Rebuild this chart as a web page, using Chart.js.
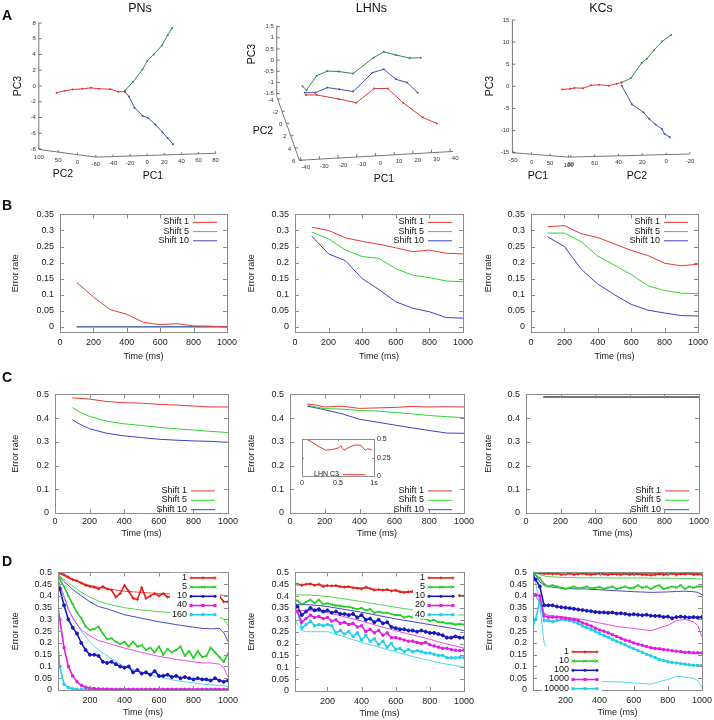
<!DOCTYPE html>
<html>
<head>
<meta charset="utf-8">
<script src="https://cdn.jsdelivr.net/npm/chart.js@4.4.0/dist/chart.umd.min.js"></script>
<style>
body{margin:0;background:#fff;width:714px;height:720px;position:relative;overflow:hidden;font-family:"Liberation Sans",Arial,Helvetica,sans-serif}
canvas{position:absolute}
.t{position:absolute;white-space:nowrap;color:#111;transform:translate(-50%,-50%);line-height:1}
</style>
</head>
<body>
<script>
// ---- row A: trajectories (horizontal floor coordinate, PC3) ----
const pnRedU = [-105.9, -96.5, -87.1, -75.8, -65.6, -56.2, -43.1, -33.7, -26.1];
const pnRedPC3 = [-0.85, -0.61, -0.45, -0.36, -0.24, -0.36, -0.40, -0.73, -0.73];
const pnGreenU = [-26.1, -16.7, -5.4, 0.2, 7.7, 17.2, 23.9, 29.2];
const pnGreenPC3 = [-0.61, 0.49, 2.1, 3.2, 4.0, 5.14, 6.44, 7.37];
const pnBlueU = [-26.1, -21.2, -14.8, -5.4, 1.3, 9.6, 17.9, 23.9, 30.3];
const pnBluePC3 = [-0.73, -1.34, -2.75, -3.77, -4.05, -4.9, -5.87, -6.6, -7.4];

const lhGreenU = [-39.0, -36.9, -31.4, -25.7, -19.7, -11.9, -1.0, 4.5, 11.0, 18.3, 24.3];
const lhGreenPC3 = [-1.17, -1.34, -0.70, -0.49, -0.51, -0.60, 0.11, 0.37, 0.23, 0.09, 0.11];
const lhBlueU = [-37.8, -32.1, -25.7, -19.3, -11.9, -1.6, 4.5, 11.0, 16.9, 22.6];
const lhBluePC3 = [-1.46, -1.46, -1.23, -1.31, -1.41, -0.56, -0.41, -0.86, -1.0, -1.46];
const lhRedU = [-37.2, -31.4, -19.7, -10.2, -0.7, 6.6, 14.8, 25.2, 32.9];
const lhRedPC3 = [-1.56, -1.56, -1.74, -1.91, -1.27, -1.27, -1.91, -2.56, -2.84];

const kcRedU = [87.3, 80.5, 77.0, 69.7, 63.0, 56.2, 48.1, 41.4, 37.3];
const kcRedPC3 = [-0.72, -0.58, -0.36, -0.43, 0.22, 0.36, 0.14, 0.58, 0.87];
const kcGreenU = [37.3, 29.7, 20.5, 16.2, 10.3, 3.5, -4.1];
const kcGreenPC3 = [0.87, 1.80, 5.26, 6.2, 8.15, 10.1, 11.6];
const kcBlueU = [37.3, 28.6, 18.9, 14.3, 8.9, 3.5, 1.35, -3.2];
const kcBluePC3 = [0.14, -4.1, -5.9, -7.35, -8.65, -9.66, -10.8, -11.5];

const pnPC3Ticks = [-8, -6, -4, -2, 0, 2, 4, 6, 8];
const pnPC2Ticks = [100, 50, 0];
const pnPC1Ticks = [-60, -40, -20, 0, 20, 40, 60, 80];
const lhPC3Ticks = [-1.5, -1, -0.5, 0, 0.5, 1, 1.5];
const lhPC2Ticks = [-4, -2, 0, 2, 4, 6];
const lhPC1Ticks = [-40, -30, -20, -10, 0, 10, 20, 30, 40];
const kcPC3Ticks = [-15, -10, -5, 0, 5, 10, 15];
const kcPC1Ticks = [-50, 0, 50, 100];
const kcPC2Ticks = [80, 60, 40, 20, 0, -20];

// ---- row B ----
const bTime = [100, 200, 300, 400, 500, 600, 700, 800, 900, 1000];
const pnB1 = [0.138, 0.093, 0.054, 0.039, 0.014, 0.007, 0.01, 0.003, 0.002, 0];
const pnB5 = [0, 0, 0, 0, 0, 0, 0, 0, 0, 0];
const pnB10 = [0, 0, 0, 0, 0, 0, 0, 0, 0, 0];
const lhB1 = [0.31, 0.30, 0.277, 0.266, 0.257, 0.246, 0.234, 0.239, 0.229, 0.227];
const lhB5 = [0.295, 0.274, 0.239, 0.219, 0.213, 0.181, 0.161, 0.153, 0.143, 0.14];
const lhB10 = [0.282, 0.227, 0.206, 0.15, 0.116, 0.078, 0.058, 0.047, 0.029, 0.027];
const kcB1 = [0.312, 0.315, 0.29, 0.278, 0.258, 0.238, 0.222, 0.198, 0.19, 0.195];
const kcB5 = [0.292, 0.292, 0.265, 0.22, 0.192, 0.163, 0.128, 0.113, 0.105, 0.103];
const kcB10 = [0.28, 0.25, 0.18, 0.133, 0.1, 0.07, 0.052, 0.043, 0.035, 0.034];
const bYTicks = [0, 0.05, 0.1, 0.15, 0.2, 0.25, 0.3, 0.35];

// ---- row C ----
const cTime = [100, 150, 200, 300, 400, 500, 600, 700, 800, 900, 1000];
const pnC1 = [0.485, 0.483, 0.48, 0.47, 0.465, 0.463, 0.458, 0.455, 0.451, 0.447, 0.447];
const pnC5 = [0.444, 0.423, 0.407, 0.387, 0.376, 0.369, 0.361, 0.355, 0.35, 0.344, 0.339];
const pnC10 = [0.393, 0.372, 0.355, 0.336, 0.325, 0.318, 0.311, 0.307, 0.304, 0.302, 0.298];
const lhC1 = [0.46, 0.455, 0.447, 0.45, 0.441, 0.443, 0.445, 0.449, 0.447, 0.448, 0.447];
const lhC5 = [0.455, 0.447, 0.44, 0.438, 0.432, 0.43, 0.424, 0.418, 0.411, 0.406, 0.402];
const lhC10 = [0.45, 0.443, 0.435, 0.418, 0.395, 0.383, 0.371, 0.359, 0.348, 0.337, 0.336];
const kcC1 = [0.4905, 0.4905, 0.4905, 0.4903, 0.4903, 0.4902, 0.4902, 0.4901, 0.4901, 0.49, 0.49];
const kcC5 = [0.489, 0.489, 0.489, 0.489, 0.4888, 0.4888, 0.4887, 0.4887, 0.4886, 0.4886, 0.4885];
const kcC10 = [0.4885, 0.4885, 0.4884, 0.4884, 0.4883, 0.4883, 0.4882, 0.4882, 0.4881, 0.4881, 0.488];
const cYTicks = [0, 0.1, 0.2, 0.3, 0.4, 0.5];
const xTicks = [0, 200, 400, 600, 800, 1000];

const insetTime = [0.055, 0.124, 0.217, 0.332, 0.424, 0.516, 0.539, 0.585, 0.654, 0.724, 0.816, 0.876, 0.908, 0.968];
const insetErr = [0.5, 0.47, 0.41, 0.35, 0.36, 0.385, 0.41, 0.35, 0.39, 0.42, 0.42, 0.35, 0.37, 0.36];
const insetXTicks = [0, 0.5, 1];
const insetXLabels = ['0', '0.5', '1s'];
const insetYTicks = [0, 0.25, 0.5];

// ---- row D: noisy sample curves (thick) and smooth curves (thin) ----
const dTime = [10, 25, 50, 75, 100, 125, 150, 175, 200, 225, 250, 275, 300, 325, 350, 375, 400, 425, 450, 475,
  500, 525, 550, 575, 600, 625, 650, 675, 700, 725, 750, 775, 800, 825, 850, 875, 900, 925, 950, 975, 1000];
const dThinTime = [10, 25, 50, 75, 100, 150, 200, 250, 300, 400, 500, 600, 700, 800, 850, 900, 950, 975, 1000];

const pnD1 = [0.5, 0.497, 0.49, 0.48, 0.47, 0.465, 0.455, 0.445, 0.44, 0.437, 0.43, 0.44, 0.43, 0.425, 0.395, 0.41, 0.445, 0.42, 0.39, 0.385,
  0.435, 0.39, 0.4, 0.41, 0.4, 0.41, 0.395, 0.4, 0.41, 0.4, 0.41, 0.395, 0.4, 0.405, 0.4, 0.41, 0.4, 0.405, 0.4, 0.375, 0.375];
const pnD5 = [0.49, 0.47, 0.44, 0.40, 0.365, 0.33, 0.305, 0.27, 0.255, 0.26, 0.27, 0.24, 0.215, 0.22, 0.205, 0.195, 0.205, 0.185, 0.205, 0.185,
  0.19, 0.17, 0.18, 0.16, 0.185, 0.15, 0.175, 0.16, 0.17, 0.185, 0.145, 0.165, 0.135, 0.165, 0.14, 0.145, 0.18, 0.16, 0.14, 0.12, 0.155];
const pnD10 = [0.45, 0.43, 0.36, 0.30, 0.265, 0.24, 0.2, 0.17, 0.15, 0.15, 0.145, 0.12, 0.115, 0.12, 0.11, 0.1, 0.095, 0.1, 0.075, 0.085,
  0.07, 0.075, 0.065, 0.08, 0.06, 0.06, 0.065, 0.055, 0.06, 0.05, 0.055, 0.05, 0.045, 0.05, 0.045, 0.045, 0.04, 0.05, 0.04, 0.035, 0.04];
const pnD40 = [0.375, 0.3, 0.18, 0.1, 0.06, 0.035, 0.02, 0.012, 0.008, 0.006, 0.005, 0.004, 0.004, 0.003, 0.003, 0.003, 0.003, 0.003, 0.003, 0.003,
  0.003, 0.003, 0.003, 0.003, 0.003, 0.003, 0.003, 0.003, 0.003, 0.003, 0.003, 0.003, 0.003, 0.003, 0.003, 0.003, 0.003, 0.003, 0.003, 0.003, 0.003];
const pnD160 = [0.245, 0.1, 0.025, 0.01, 0.005, 0.003, 0.002, 0.002, 0.002, 0.002, 0.002, 0.002, 0.002, 0.002, 0.002, 0.002, 0.002, 0.002, 0.002, 0.002,
  0.002, 0.002, 0.002, 0.002, 0.002, 0.002, 0.002, 0.002, 0.002, 0.002, 0.002, 0.002, 0.002, 0.002, 0.002, 0.002, 0.002, 0.002, 0.002, 0.002, 0.002];
const pnT1 = [0.5, 0.495, 0.485, 0.475, 0.468, 0.455, 0.445, 0.437, 0.43, 0.42, 0.415, 0.41, 0.408, 0.405, 0.405, 0.405, 0.405, 0.402, 0.4];
const pnT5 = [0.495, 0.485, 0.47, 0.455, 0.443, 0.415, 0.395, 0.378, 0.366, 0.35, 0.34, 0.333, 0.327, 0.32, 0.317, 0.31, 0.312, 0.3, 0.276];
const pnT10 = [0.49, 0.48, 0.46, 0.445, 0.428, 0.4, 0.375, 0.355, 0.345, 0.32, 0.305, 0.29, 0.278, 0.267, 0.262, 0.26, 0.262, 0.245, 0.207];
const pnT40 = [0.48, 0.45, 0.4, 0.345, 0.305, 0.255, 0.23, 0.21, 0.2, 0.178, 0.16, 0.143, 0.13, 0.12, 0.115, 0.115, 0.11, 0.095, 0.055];
const pnT160 = [0.48, 0.44, 0.39, 0.34, 0.31, 0.25, 0.205, 0.17, 0.145, 0.1, 0.075, 0.055, 0.04, 0.03, 0.025, 0.022, 0.02, 0.018, 0.014];

const lhD1 = [0.45, 0.45, 0.445, 0.45, 0.452, 0.445, 0.45, 0.44, 0.445, 0.443, 0.445, 0.44, 0.438, 0.44, 0.435, 0.433, 0.43, 0.438, 0.432, 0.425,
  0.428, 0.425, 0.428, 0.422, 0.425, 0.418, 0.415, 0.418, 0.42, 0.415, 0.413, 0.41, 0.41, 0.408, 0.407, 0.405, 0.405, 0.404, 0.403, 0.402, 0.4];
const lhD5 = [0.385, 0.38, 0.365, 0.375, 0.385, 0.37, 0.385, 0.365, 0.37, 0.365, 0.36, 0.36, 0.355, 0.355, 0.35, 0.345, 0.35, 0.34, 0.345, 0.33,
  0.335, 0.33, 0.33, 0.325, 0.32, 0.32, 0.31, 0.315, 0.31, 0.31, 0.305, 0.305, 0.295, 0.3, 0.29, 0.29, 0.285, 0.285, 0.28, 0.283, 0.28];
const lhD10 = [0.36, 0.355, 0.32, 0.335, 0.35, 0.34, 0.345, 0.335, 0.34, 0.33, 0.335, 0.325, 0.325, 0.32, 0.325, 0.31, 0.32, 0.3, 0.305, 0.29,
  0.3, 0.285, 0.29, 0.27, 0.265, 0.26, 0.26, 0.255, 0.255, 0.25, 0.255, 0.25, 0.245, 0.245, 0.24, 0.235, 0.225, 0.225, 0.23, 0.225, 0.225];
const lhD20 = [0.34, 0.335, 0.29, 0.305, 0.32, 0.31, 0.315, 0.305, 0.31, 0.295, 0.3, 0.285, 0.29, 0.28, 0.285, 0.27, 0.275, 0.25, 0.26, 0.245,
  0.255, 0.235, 0.245, 0.225, 0.225, 0.22, 0.215, 0.21, 0.21, 0.205, 0.2, 0.205, 0.195, 0.19, 0.185, 0.18, 0.18, 0.175, 0.172, 0.17, 0.172];
const lhD40 = [0.335, 0.335, 0.265, 0.28, 0.295, 0.275, 0.28, 0.275, 0.28, 0.275, 0.245, 0.255, 0.24, 0.25, 0.23, 0.245, 0.215, 0.235, 0.21, 0.22,
  0.195, 0.21, 0.185, 0.2, 0.175, 0.18, 0.165, 0.175, 0.165, 0.17, 0.165, 0.16, 0.16, 0.155, 0.15, 0.15, 0.14, 0.14, 0.14, 0.142, 0.14];
const lhT1 = [0.45, 0.45, 0.45, 0.45, 0.45, 0.448, 0.445, 0.442, 0.44, 0.435, 0.428, 0.422, 0.416, 0.41, 0.407, 0.405, 0.403, 0.402, 0.4];
const lhT5 = [0.405, 0.405, 0.405, 0.405, 0.404, 0.402, 0.398, 0.393, 0.388, 0.377, 0.365, 0.353, 0.342, 0.333, 0.329, 0.326, 0.323, 0.321, 0.32];
const lhT10 = [0.365, 0.365, 0.365, 0.364, 0.363, 0.36, 0.356, 0.35, 0.344, 0.332, 0.318, 0.304, 0.292, 0.28, 0.274, 0.268, 0.262, 0.258, 0.255];
const lhT20 = [0.34, 0.34, 0.34, 0.34, 0.338, 0.335, 0.33, 0.322, 0.313, 0.295, 0.274, 0.254, 0.236, 0.218, 0.208, 0.198, 0.19, 0.185, 0.18];
const lhT40 = [0.3, 0.28, 0.255, 0.25, 0.25, 0.25, 0.25, 0.24, 0.228, 0.205, 0.185, 0.165, 0.145, 0.128, 0.12, 0.113, 0.107, 0.103, 0.1];

const kcD1 = [0.5, 0.5, 0.497, 0.495, 0.495, 0.493, 0.495, 0.49, 0.492, 0.495, 0.49, 0.493, 0.495, 0.492, 0.49, 0.493, 0.495, 0.492, 0.49, 0.493,
  0.492, 0.49, 0.495, 0.49, 0.492, 0.493, 0.49, 0.49, 0.488, 0.49, 0.493, 0.49, 0.492, 0.495, 0.49, 0.493, 0.492, 0.495, 0.49, 0.492, 0.49];
const kcD10 = [0.5, 0.49, 0.475, 0.45, 0.44, 0.445, 0.44, 0.435, 0.43, 0.435, 0.44, 0.432, 0.435, 0.44, 0.432, 0.435, 0.438, 0.43, 0.435, 0.44,
  0.43, 0.435, 0.44, 0.432, 0.435, 0.445, 0.435, 0.44, 0.43, 0.44, 0.445, 0.43, 0.435, 0.44, 0.435, 0.445, 0.43, 0.44, 0.435, 0.44, 0.44];
const kcD100 = [0.485, 0.47, 0.44, 0.36, 0.36, 0.36, 0.355, 0.352, 0.35, 0.348, 0.345, 0.342, 0.34, 0.337, 0.335, 0.332, 0.33, 0.33, 0.328, 0.33,
  0.325, 0.326, 0.324, 0.32, 0.322, 0.32, 0.318, 0.32, 0.316, 0.315, 0.315, 0.31, 0.312, 0.305, 0.31, 0.312, 0.31, 0.308, 0.31, 0.308, 0.31];
const kcD1000 = [0.405, 0.405, 0.4, 0.315, 0.31, 0.31, 0.31, 0.308, 0.305, 0.302, 0.3, 0.295, 0.285, 0.28, 0.272, 0.263, 0.255, 0.25, 0.243, 0.235,
  0.228, 0.22, 0.212, 0.208, 0.2, 0.195, 0.19, 0.185, 0.18, 0.177, 0.175, 0.172, 0.17, 0.167, 0.165, 0.163, 0.16, 0.16, 0.158, 0.158, 0.158];
const kcD10000 = [0.28, 0.3, 0.38, 0.295, 0.295, 0.29, 0.295, 0.3, 0.298, 0.295, 0.29, 0.282, 0.272, 0.265, 0.258, 0.25, 0.24, 0.232, 0.225, 0.215,
  0.207, 0.2, 0.192, 0.183, 0.175, 0.168, 0.16, 0.152, 0.145, 0.138, 0.13, 0.125, 0.12, 0.117, 0.115, 0.112, 0.11, 0.107, 0.105, 0.105, 0.104];
const kcT1 = [0.5, 0.5, 0.499, 0.498, 0.498, 0.497, 0.497, 0.497, 0.496, 0.496, 0.496, 0.495, 0.495, 0.495, 0.495, 0.495, 0.495, 0.495, 0.494];
const kcT10 = [0.5, 0.5, 0.49, 0.485, 0.482, 0.48, 0.478, 0.478, 0.477, 0.477, 0.476, 0.476, 0.476, 0.475, 0.475, 0.474, 0.474, 0.473, 0.472];
const kcT100 = [0.5, 0.49, 0.46, 0.445, 0.44, 0.435, 0.432, 0.43, 0.43, 0.426, 0.422, 0.418, 0.415, 0.417, 0.419, 0.42, 0.418, 0.415, 0.405];
const kcT1000 = [0.4, 0.4, 0.37, 0.325, 0.318, 0.313, 0.31, 0.305, 0.3, 0.285, 0.27, 0.262, 0.252, 0.275, 0.295, 0.3, 0.29, 0.275, 0.225];
const kcT10000 = [0.48, 0.46, 0.36, 0.2, 0.16, 0.12, 0.08, 0.06, 0.045, 0.036, 0.035, 0.03, 0.025, 0.045, 0.058, 0.055, 0.05, 0.04, 0.01];

const dYTicks = [0, 0.05, 0.1, 0.15, 0.2, 0.25, 0.3, 0.35, 0.4, 0.45, 0.5];
const dXTicks = [200, 400, 600, 800, 1000];

// ---------------------------------------------------------------
const FONT = '"Liberation Sans", Arial, Helvetica, sans-serif';
Chart.defaults.font.family = FONT;
Chart.defaults.animation = false;

const RED = 'rgb(232,58,52)', GREEN = 'rgb(52,212,52)', BLUE = 'rgb(64,64,200)';
const DRED = '#e4201c', DGREEN = '#22cc22', DBLUE = '#1818b8', DMAG = '#e01ee0', DCYAN = '#22cfe6';
const AR = '#d8393a', AG = '#2e8a50', AB = '#4253a3';

function addCanvas(left, top, w, h) {
  const c = document.createElement('canvas');
  c.width = w; c.height = h;
  c.style.left = left + 'px'; c.style.top = top + 'px';
  c.style.width = w + 'px'; c.style.height = h + 'px';
  document.body.appendChild(c);
  return c.getContext('2d');
}

function text(s, x, y, size, extra) {
  const d = document.createElement('div');
  d.className = 't';
  d.textContent = s;
  d.style.left = x + 'px'; d.style.top = y + 'px';
  d.style.fontSize = size + 'px';
  if (extra) Object.assign(d.style, extra);
  document.body.appendChild(d);
}

function drawMark(ctx, style, x, y, color, r) {
  ctx.save();
  ctx.strokeStyle = color; ctx.fillStyle = color; ctx.lineWidth = 1;
  ctx.beginPath();
  if (style === 'cross') {
    ctx.moveTo(x - r, y); ctx.lineTo(x + r, y); ctx.moveTo(x, y - r); ctx.lineTo(x, y + r); ctx.stroke();
  } else if (style === 'crossRot') {
    ctx.moveTo(x - r, y - r); ctx.lineTo(x + r, y + r); ctx.moveTo(x - r, y + r); ctx.lineTo(x + r, y - r); ctx.stroke();
  } else if (style === 'rect') {
    ctx.fillRect(x - r, y - r, 2 * r, 2 * r);
  } else {
    ctx.arc(x, y, r, 0, Math.PI * 2); ctx.fill();
  }
  ctx.restore();
}

const framePlugin = {
  id: 'frame',
  afterDatasetsDraw(chart, args, o) {
    if (!o || !o.on) return;
    const {ctx, chartArea: a, scales} = chart;
    const t = o.tick || 4;
    ctx.save();
    ctx.strokeStyle = '#8c8c8c';
    ctx.lineWidth = 1;
    ctx.beginPath();
    scales.x.ticks.forEach(tk => {
      const x = Math.round(scales.x.getPixelForValue(tk.value)) + 0.5;
      ctx.moveTo(x, a.bottom); ctx.lineTo(x, a.bottom - t);
      ctx.moveTo(x, a.top); ctx.lineTo(x, a.top + t);
    });
    scales.y.ticks.forEach(tk => {
      const y = Math.round(scales.y.getPixelForValue(tk.value)) + 0.5;
      ctx.moveTo(a.left, y); ctx.lineTo(a.left + t, y);
      ctx.moveTo(a.right, y); ctx.lineTo(a.right - t, y);
    });
    ctx.stroke();
    ctx.strokeRect(Math.round(a.left) + 0.5, Math.round(a.top) + 0.5, Math.round(a.right - a.left), Math.round(a.bottom - a.top));
    ctx.restore();
  }
};

const keyPlugin = {
  id: 'gkey',
  afterDatasetsDraw(chart, args, o) {
    if (!o || !o.rows) return;
    const {ctx, chartArea: a} = chart;
    const sx = a.left + o.sx, sl = o.len || 24, sp = o.sp || 9.2, size = o.size || 9;
    ctx.save();
    ctx.font = size + 'px ' + FONT;
    if (o.opaque) {
      let tw = 0;
      o.rows.forEach(r => { tw = Math.max(tw, ctx.measureText(r.label).width); });
      ctx.fillStyle = '#fff';
      ctx.fillRect(sx - 6 - tw, a.top + o.y0 - sp / 2, tw + 6 + sl + (o.padR || 4), o.rows.length * sp);
    }
    o.rows.forEach((r, i) => {
      const y = a.top + o.y0 + i * sp;
      ctx.fillStyle = '#111'; ctx.textAlign = 'right'; ctx.textBaseline = 'middle';
      ctx.fillText(r.label, sx - 4, y);
      ctx.strokeStyle = r.color; ctx.lineWidth = r.width || 1;
      ctx.beginPath(); ctx.moveTo(sx, y + 0.5); ctx.lineTo(sx + sl, y + 0.5); ctx.stroke();
      if (r.point) [sx, sx + sl / 2, sx + sl].forEach(px => drawMark(ctx, r.point, px, y + 0.5, r.color, 1.5));
    });
    ctx.restore();
  }
};

const axes3dPlugin = {
  id: 'axes3d',
  beforeDatasetsDraw(chart, args, o) {
    if (!o || !o.axes) return;
    const {ctx, scales: {x, y}} = chart;
    ctx.save();
    ctx.strokeStyle = '#555'; ctx.fillStyle = '#333'; ctx.lineWidth = 0.8;
    ctx.font = '6px ' + FONT;
    o.axes.forEach(ax => {
      const x0 = x.getPixelForValue(ax.from[0]), y0 = y.getPixelForValue(ax.from[1]);
      const x1 = x.getPixelForValue(ax.to[0]), y1 = y.getPixelForValue(ax.to[1]);
      ctx.beginPath(); ctx.moveTo(x0, y0); ctx.lineTo(x1, y1); ctx.stroke();
      ax.ticks.forEach(t => {
        const f = (t - ax.v0) / (ax.v1 - ax.v0);
        const px = x0 + f * (x1 - x0), py = y0 + f * (y1 - y0);
        ctx.beginPath(); ctx.moveTo(px, py); ctx.lineTo(px + ax.tick[0], py + ax.tick[1]); ctx.stroke();
        ctx.textAlign = ax.align || 'center'; ctx.textBaseline = 'middle';
        ctx.fillText(String(t), px + ax.lab[0], py + ax.lab[1]);
      });
    });
    ctx.restore();
  }
};

Chart.register(framePlugin, keyPlugin, axes3dPlugin);

function pts(xs, ys) { return xs.map((x, i) => ({x: x, y: ys[i]})); }

function line(xs, ys, color, width, point) {
  return {
    data: pts(xs, ys), showLine: true, borderColor: color, backgroundColor: color,
    borderWidth: width, tension: 0, pointRadius: point ? 1.5 : 0, pointStyle: point || 'circle',
    pointBorderWidth: 1, pointBackgroundColor: color, pointBorderColor: color
  };
}

// ---- row A ----
function trajChart(left, xr, yr, reverse, datasets, axes) {
  const ctx = addCanvas(left, 0, 238, 185);
  new Chart(ctx, {
    type: 'scatter',
    data: {datasets: datasets},
    options: {
      responsive: false, animation: false,
      layout: {padding: 0},
      plugins: {legend: {display: false}, tooltip: {enabled: false}, axes3d: {axes: axes}},
      scales: {
        x: {type: 'linear', display: false, min: xr[0], max: xr[1], reverse: reverse},
        y: {type: 'linear', display: false, min: yr[0], max: yr[1]}
      }
    }
  });
}

function traj(u, v, color) {
  return {data: pts(u, v), showLine: true, borderColor: color, backgroundColor: color, borderWidth: 1,
    pointRadius: 1, pointBorderWidth: 0, tension: 0};
}

trajChart(0, [-167.3, 101.5], [-12.06, 10.405], false,
  [traj(pnRedU, pnRedPC3, AR), traj(pnGreenU, pnGreenPC3, AG), traj(pnBlueU, pnBluePC3, AB)],
  [
    {from: [-126.6, -8], to: [-126.6, 8], v0: -8, v1: 8, ticks: pnPC3Ticks, tick: [3, 0], lab: [-3, 0], align: 'right'},
    {from: [-126.6, -8.06], to: [-60, -9.03], v0: 100, v1: -47.5, ticks: pnPC2Ticks, tick: [0, -2], lab: [0, 8]},
    {from: [-60, -9.03], to: [80, -8.54], v0: -60, v1: 80, ticks: pnPC1Ticks, tick: [0, -2], lab: [0, 7]}
  ]);

trajChart(238, [-71.4, 51.7], [-5.414, 2.514], false,
  [traj(lhRedU, lhRedPC3, AR), traj(lhBlueU, lhBluePC3, AB), traj(lhGreenU, lhGreenPC3, AG)],
  [
    {from: [-52.8, -1.6], to: [-52.8, 1.55], v0: -1.6, v1: 1.55, ticks: lhPC3Ticks, tick: [3, 0], lab: [-3, 0], align: 'right'},
    {from: [-52.8, -1.63], to: [-40.7, -4.486], v0: -4.4, v1: 6, ticks: lhPC2Ticks, tick: [3, 0], lab: [-4, 1], align: 'right'},
    {from: [-40.7, -4.486], to: [41.6, -4.09], v0: -40.7, v1: 41.6, ticks: lhPC1Ticks, tick: [0, -3], lab: [5, 7]}
  ]);

trajChart(476, [-36.8, 156.2], [-21.4, 18.6], true,
  [traj(kcRedU, kcRedPC3, AR), traj(kcGreenU, kcGreenPC3, AG), traj(kcBlueU, kcBluePC3, AB)],
  [
    {from: [129, -15], to: [129, 15], v0: -15, v1: 15, ticks: kcPC3Ticks, tick: [3, 0], lab: [-3, 0], align: 'right'},
    {from: [129, -15.0], to: [81.9, -16.0], v0: -52, v1: 100, ticks: kcPC1Ticks, tick: [0, -2], lab: [0, 8]},
    {from: [81.9, -16.0], to: [-19.5, -15.3], v0: 81.9, v1: -19.5, ticks: kcPC2Ticks, tick: [0, -2], lab: [0, 7]}
  ]);

// ---- rows B, C, D ----
function errorChart(cfg) {
  const f = cfg.frame, yW = cfg.yW, xH = cfg.xH, pt = 8, pr = 14;
  const ctx = addCanvas(f.L - yW, f.T - pt, f.R - f.L + yW + pr, f.B - f.T + pt + xH);
  return new Chart(ctx, {
    type: 'scatter',
    data: {datasets: cfg.datasets},
    options: {
      responsive: false, animation: false,
      layout: {padding: {top: pt, right: pr, left: 0, bottom: 0}},
      plugins: {legend: {display: false}, tooltip: {enabled: false}, frame: {on: true}, gkey: cfg.key},
      scales: {
        x: {
          type: 'linear', min: cfg.xMin, max: 1000,
          grid: {display: false, drawTicks: false}, border: {display: false},
          afterBuildTicks: s => { s.ticks = cfg.xTicks.map(v => ({value: v})); },
          afterFit: s => { s.height = xH; },
          ticks: {font: {size: 9}, color: '#222', padding: cfg.xPad, maxRotation: 0, autoSkip: false, callback: v => String(v)},
          title: {display: true, text: 'Time (ms)', font: {size: 9}, color: '#222', padding: {top: 0, bottom: 0}}
        },
        y: {
          type: 'linear', min: cfg.yMin, max: cfg.yMax,
          grid: {display: false, drawTicks: false}, border: {display: false},
          afterBuildTicks: s => { s.ticks = cfg.yTicks.map(v => ({value: v})); },
          afterFit: s => { s.width = yW; },
          ticks: {font: {size: 9}, color: '#222', padding: 6, autoSkip: false, callback: v => String(Math.round(v * 1000) / 1000)},
          title: {display: true, text: 'Error rate', font: {size: 9}, color: '#222', padding: {top: 0, bottom: 0}}
        }
      }
    }
  });
}

const shiftRows = [
  {label: 'Shift 1', color: RED}, {label: 'Shift 5', color: GREEN}, {label: 'Shift 10', color: BLUE}
];

// B
const bFrames = [{L: 60, R: 228, T: 211, B: 332}, {L: 295, R: 464, T: 211, B: 332}, {L: 531, R: 699, T: 211, B: 332}];
const bYW = [50, 49, 48];
const bSets = [[pnB1, pnB5, pnB10], [lhB1, lhB5, lhB10], [kcB1, kcB5, kcB10]];
bSets.forEach((s, i) => {
  errorChart({
    frame: bFrames[i], yW: bYW[i], xH: 30, xPad: 5, xMin: 0, yMin: -0.016, yMax: 0.35,
    xTicks: xTicks, yTicks: bYTicks,
    datasets: [line(bTime, s[0], RED, 1), line(bTime, s[2], BLUE, 1), line(bTime, s[1], GREEN, 1)],
    key: {rows: shiftRows, sx: 133, y0: 7.5, len: 24, sp: 9.2}
  });
});

// C (in the KCs panel the three curves sit on top of each other, blue drawn last)
const cFrames = [{L: 55, R: 228, T: 391, B: 513}, {L: 290, R: 464, T: 391, B: 513}, {L: 526, R: 699, T: 391, B: 513}];
const cYW = [45, 44, 43];
const cSets = [[pnC1, pnC5, pnC10], [lhC1, lhC5, lhC10], [kcC1, kcC5, kcC10]];
const cKeyX = [136, 138, 139];
cSets.forEach((s, i) => {
  const ds = [line(cTime, s[0], RED, 1), line(cTime, s[1], GREEN, 1), line(cTime, s[2], BLUE, 1)];
  if (i === 2) ds.reverse();
  errorChart({
    frame: cFrames[i], yW: cYW[i], xH: 26, xPad: 3, xMin: 0, yMin: 0, yMax: 0.5,
    xTicks: xTicks, yTicks: cYTicks, datasets: ds,
    key: {rows: shiftRows, sx: cKeyX[i], y0: 96, len: 24, sp: 9.4}
  });
});

// inset in C (LHNs)
(function () {
  const L = 300, R = 374, T = 435, B = 476, pl = 3, pt = 3, yW = 20, xH = 11;
  const ctx = addCanvas(L - pl, T - pt, R - L + pl + yW, B - T + pt + xH);
  new Chart(ctx, {
    type: 'scatter',
    data: {datasets: [line(insetTime, insetErr, RED, 1)]},
    options: {
      responsive: false, animation: false,
      layout: {padding: {top: pt, left: pl, right: 0, bottom: 0}},
      plugins: {legend: {display: false}, tooltip: {enabled: false}, frame: {on: true, tick: 2},
        gkey: {rows: [{label: 'LHN C3', color: RED}], sx: 41, y0: 35, len: 22, size: 7}},
      scales: {
        x: {type: 'linear', min: 0, max: 1, grid: {display: false, drawTicks: false}, border: {display: false},
          afterBuildTicks: s => { s.ticks = insetXTicks.map(v => ({value: v})); },
          afterFit: s => { s.height = xH; },
          ticks: {font: {size: 7}, color: '#222', padding: 3, maxRotation: 0, autoSkip: false,
            callback: (v, i) => insetXLabels[i]}},
        y: {type: 'linear', position: 'right', min: 0, max: 0.5, grid: {display: false, drawTicks: false}, border: {display: false},
          afterBuildTicks: s => { s.ticks = insetYTicks.map(v => ({value: v})); },
          afterFit: s => { s.width = yW; },
          ticks: {font: {size: 7}, color: '#222', padding: 3, autoSkip: false, callback: v => String(v)}}
      }
    }
  });
})();

// D
const dFrames = [{L: 58, R: 229, T: 569, B: 690}, {L: 295, R: 465, T: 569, B: 691}, {L: 533, R: 703, T: 569, B: 690}];
const dYW = [48, 49, 49];
const dXMin = [15, 10, 10];
const dColors = [DRED, DGREEN, DBLUE, DMAG, DCYAN];
const dPoints = ['cross', 'crossRot', 'circle', 'rect', 'rect'];
const dLabels = [['1', '5', '10', '40', '160'], ['1', '5', '10', '20', '40'], ['1', '10', '100', '1000', '10000']];
const dThick = [[pnD1, pnD5, pnD10, pnD40, pnD160], [lhD1, lhD5, lhD10, lhD20, lhD40], [kcD1, kcD10, kcD100, kcD1000, kcD10000]];
const dThin = [[pnT1, pnT5, pnT10, pnT40, pnT160], [lhT1, lhT5, lhT10, lhT20, lhT40], [kcT1, kcT10, kcT100, kcT1000, kcT10000]];
const dKeys = [{sx: 133, y0: 5}, {sx: 134, y0: 5}, {sx: 40, y0: 79}];
dThick.forEach((set, i) => {
  const ds = set.map((ys, k) => line(dTime, ys, dColors[k], 1.6, dPoints[k]));
  dThin[i].forEach((ys, k) => ds.push(line(dThinTime, ys, dColors[k], 0.8)));
  errorChart({
    frame: dFrames[i], yW: dYW[i], xH: 28, xPad: 5, xMin: dXMin[i], yMin: 0, yMax: 0.5,
    xTicks: dXTicks, yTicks: dYTicks, datasets: ds,
    key: {rows: dLabels[i].map((l, k) => ({label: l, color: dColors[k], point: dPoints[k], width: 1.6})),
      sx: dKeys[i].sx, y0: dKeys[i].y0, len: 24, sp: 9.2, opaque: true, padR: 5}
  });
});

// ---- texts ----
text('A', 7, 15, 14, {fontWeight: 'bold'});
text('B', 7, 205, 14, {fontWeight: 'bold'});
text('C', 7, 377, 14, {fontWeight: 'bold'});
text('D', 7, 561, 14, {fontWeight: 'bold'});
text('PNs', 140, 8, 12.5);
text('LHNs', 371.5, 8, 12.5);
text('KCs', 601, 8, 12.5);
const rot = {transform: 'translate(-50%,-50%) rotate(-90deg)'};
text('PC3', 17, 86, 10.5, rot);
text('PC2', 63, 173, 10.5);
text('PC1', 153, 175, 10.5);
text('PC3', 251, 54, 10.5, rot);
text('PC2', 263, 130, 10.5);
text('PC1', 384, 178, 10.5);
text('PC3', 489, 86, 10.5, rot);
text('PC1', 538, 175, 10.5);
text('PC2', 637, 175, 10.5);
</script>
</body>
</html>
